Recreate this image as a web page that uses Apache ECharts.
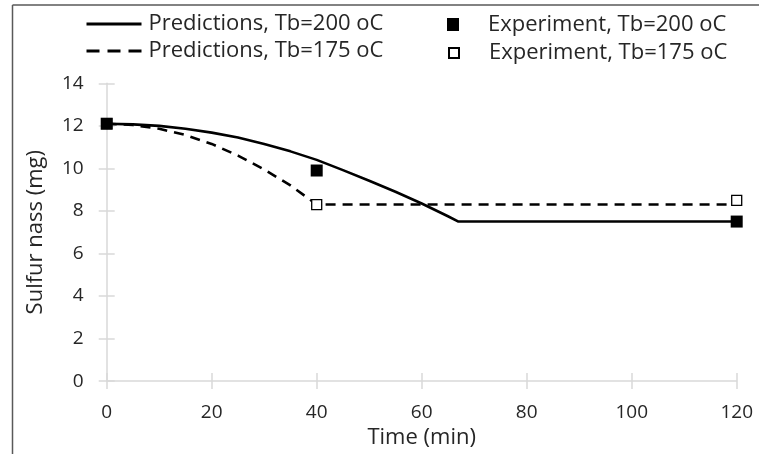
<!DOCTYPE html>
<html>
<head>
<meta charset="utf-8">
<script src="https://cdn.jsdelivr.net/npm/echarts@6/dist/echarts.min.js"></script>
<style>
  html, body { margin: 0; padding: 0; background: #fff; }
  #chart { width: 759px; height: 454px; }
</style>
</head>
<body>
<div id="chart"></div>
<script>
// predictions, Tb=200 oC  [time (min), sulfur mass (mg)]
const pred200 = [
  [0, 12.1], [5, 12.07], [10, 12.0], [15, 11.86], [20, 11.68], [25, 11.45],
  [30, 11.15], [35, 10.8], [40, 10.4], [45, 9.92], [50, 9.42], [55, 8.9],
  [60, 8.35], [65, 7.75], [67, 7.5], [120, 7.5]
];
// predictions, Tb=175 oC
const pred175 = [
  [0, 12.1], [5, 12.04], [10, 11.86], [15, 11.57], [20, 11.15], [25, 10.6],
  [30, 9.95], [35, 9.2], [40, 8.3], [120, 8.3]
];
// experiments
const exp200 = [[0, 12.1], [40, 9.9], [120, 7.5]];
const exp175 = [[0, 12.1], [40, 8.3], [120, 8.5]];

const xTicks = [0, 20, 40, 60, 80, 100, 120];
const yTicks = [0, 2, 4, 6, 8, 10, 12, 14];

const font = "'Open Sans', Lato, sans-serif";
const axisGrey = "#d9d9d9";
const textCol = "#262626";

const chart = echarts.init(document.getElementById("chart"));

const baseX = {
  type: "value", min: xTicks[0], max: xTicks[xTicks.length - 1], interval: 20,
  splitLine: { show: false },
  axisLine: { lineStyle: { color: axisGrey, width: 1.5 } }
};
const baseY = {
  type: "value", min: yTicks[0], max: yTicks[yTicks.length - 1], interval: 2,
  splitLine: { show: false },
  axisLine: { lineStyle: { color: axisGrey, width: 1.5 } }
};

// one legend per entry so each sits where the reference puts it
function legendAt(name, left, cy, w, h, pad, lineStyle) {
  const l = {
    orient: "horizontal", left: left, top: cy - h / 2, padding: 0,
    itemWidth: w, itemHeight: h,
    textStyle: { fontFamily: font, fontSize: 22, color: textCol, padding: [0, 0, 0, pad] },
    data: [name]
  };
  if (lineStyle) {
    l.itemStyle = { opacity: 0 };
    l.lineStyle = lineStyle;
  }
  return l;
}

const option = {
  animation: false,
  backgroundColor: "#fff",
  textStyle: { fontFamily: font },
  grid: { left: 106.7, right: 22.3, top: 83.3, bottom: 72.3 },
  graphic: [
    { type: "line", shape: { x1: 12.5, y1: 5, x2: 759, y2: 5 }, style: { stroke: "#595959", lineWidth: 1.5 } },
    { type: "line", shape: { x1: 12.5, y1: 5, x2: 12.5, y2: 454 }, style: { stroke: "#595959", lineWidth: 1.5 } }
  ],
  legend: [
    legendAt("Predictions, Tb=200 oC", 85, 20, 55, 14, 2, { width: 3, color: "#000" }),
    legendAt("Predictions, Tb=175 oC", 85, 47, 55, 14, 2, { width: 3, color: "#000", type: [13, 8] }),
    legendAt("Experiment, Tb=200 oC", 447, 20, 12, 13, 24, null),
    legendAt("Experiment, Tb=175 oC", 448, 47, 10, 10, 25, null)
  ],
  xAxis: [
    Object.assign({}, baseX, {
      name: "Time (min)", nameLocation: "middle", nameGap: 44,
      nameTextStyle: { fontFamily: font, fontSize: 22, color: textCol },
      axisTick: { show: true, length: 8, lineStyle: { color: axisGrey, width: 1.5 } },
      axisLabel: { fontFamily: font, fontSize: 19, color: textCol, margin: 22 }
    }),
    Object.assign({}, baseX, {
      position: "bottom", axisLine: { show: false }, axisLabel: { show: false },
      axisTick: { show: true, inside: true, length: 8, lineStyle: { color: axisGrey, width: 1.5 } }
    })
  ],
  yAxis: [
    Object.assign({}, baseY, {
      name: "Sulfur nass (mg)", nameLocation: "middle", nameGap: 60,
      nameTextStyle: { fontFamily: font, fontSize: 22, color: textCol },
      axisTick: { show: true, length: 8, lineStyle: { color: axisGrey, width: 1.5 } },
      axisLabel: { fontFamily: font, fontSize: 19, color: textCol, margin: 23 }
    }),
    Object.assign({}, baseY, {
      position: "left", axisLine: { show: false }, axisLabel: { show: false },
      axisTick: { show: true, inside: true, length: 8, lineStyle: { color: axisGrey, width: 1.5 } }
    })
  ],
  series: [
    {
      name: "Predictions, Tb=200 oC", type: "line", data: pred200,
      showSymbol: false, symbol: "none", z: 2,
      lineStyle: { color: "#000", width: 2.6 }, itemStyle: { color: "#000" }
    },
    {
      name: "Predictions, Tb=175 oC", type: "line", data: pred175,
      showSymbol: false, symbol: "none", z: 2,
      lineStyle: { color: "#000", width: 2.6, type: [10, 7] }, itemStyle: { color: "#000" }
    },
    {
      name: "Experiment, Tb=175 oC", type: "scatter", data: exp175,
      symbol: "rect", symbolSize: 10, z: 3,
      itemStyle: { color: "#fff", borderColor: "#000", borderWidth: 1.3, opacity: 1 }
    },
    {
      name: "Experiment, Tb=200 oC", type: "scatter", data: exp200,
      symbol: "rect", symbolSize: 12, z: 4,
      itemStyle: { color: "#000", opacity: 1 }
    }
  ]
};

chart.setOption(option);
</script>
</body>
</html>
